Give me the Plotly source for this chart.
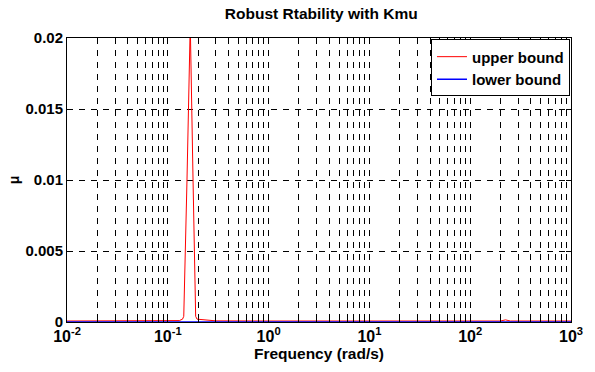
import plotly.graph_objects as go

# Data
freq_upper = [0.01, 0.03, 0.1, 0.13, 0.14, 0.144, 0.155, 0.167, 0.178, 0.189, 0.195, 0.3, 1.0, 10.0, 100.0, 200.0, 224.0, 250.0, 500.0, 1000.0]
mu_upper = [0.00007, 0.00007, 0.00008, 0.0001, 0.0002, 0.0004, 0.010, 0.021, 0.010, 0.0004, 0.0002, 0.00008, 0.00007, 0.00007, 0.00007, 0.00007, 0.00015, 0.00007, 0.00007, 0.00007]
freq_lower = [0.01, 0.1, 1.0, 10.0, 100.0, 1000.0]
mu_lower = [0.0, 0.0, 0.0, 0.0, 0.0, 0.0]

x_tickvals = [0.01, 0.1, 1, 10, 100, 1000]
x_ticktext = ["10<sup>-2</sup>", "10<sup>-1</sup>", "10<sup>0</sup>", "10<sup>1</sup>", "10<sup>2</sup>", "10<sup>3</sup>"]
y_tickvals = [0, 0.005, 0.01, 0.015, 0.02]
y_ticktext = ["0", "0.005", "0.01", "0.015", "0.02"]

font_family = "Liberation Sans, Arial, sans-serif"

fig = go.Figure()
fig.add_trace(go.Scatter(x=freq_upper, y=mu_upper, mode="lines", name="upper bound",
                         line=dict(color="#ff0000", width=1)))
fig.add_trace(go.Scatter(x=freq_lower, y=mu_lower, mode="lines", name="lower bound",
                         line=dict(color="#0000ff", width=1.5)))

fig.update_layout(
    width=595, height=372,
    margin=dict(l=67, r=19, t=38, b=50),
    paper_bgcolor="white", plot_bgcolor="white",
    font=dict(family=font_family, color="black"),
    title=dict(text="<b>Robust Rtability with Kmu</b>", x=0.54, xanchor="center", y=0.963, yanchor="middle",
               font=dict(size=15.5, family=font_family)),
    showlegend=True,
    legend=dict(x=0.998, xanchor="right", y=0.995, yanchor="top", bgcolor="white",
                bordercolor="black", borderwidth=1,
                font=dict(size=15, family=font_family, weight="bold"),
                tracegroupgap=0, itemwidth=30),
)

fig.update_xaxes(
    type="log", range=[-2, 3],
    tickvals=x_tickvals, ticktext=x_ticktext,
    tickfont=dict(size=16, family=font_family, weight="bold"),
    ticks="inside", ticklen=5, tickcolor="black",
    showline=True, linecolor="black", linewidth=1, mirror="ticks",
    showgrid=True, gridcolor="black", griddash="6px,6px", gridwidth=1,
    minor=dict(dtick="D1", ticks="inside", ticklen=3, tickcolor="black",
               showgrid=True, gridcolor="black", griddash="6px,6px", gridwidth=1),
    zeroline=False,
    title=dict(text="<b>Frequency (rad/s)</b>", font=dict(size=15.5, family=font_family), standoff=3),
)
fig.update_yaxes(
    range=[0, 0.02],
    tickvals=y_tickvals, ticktext=y_ticktext,
    tickfont=dict(size=15, family=font_family, weight="bold"),
    ticks="inside", ticklen=5, tickcolor="black",
    showline=True, linecolor="black", linewidth=1, mirror="ticks",
    showgrid=True, gridcolor="black", griddash="6px,6px", gridwidth=1,
    zeroline=False,
    title=dict(text="<b>μ</b>", font=dict(size=14, family=font_family), standoff=2),
)

fig.write_html("out.html")
